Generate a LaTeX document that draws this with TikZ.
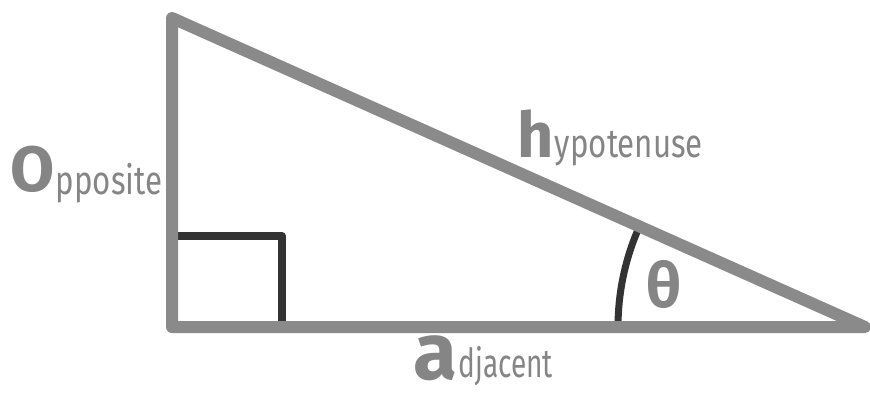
\documentclass[tikz,border=0pt]{standalone}
\usepackage{fontspec}
\setmainfont{Fira Sans}
\usetikzlibrary{positioning,calc}
\definecolor{sidegray}{HTML}{8A8A8A}
\definecolor{markdark}{HTML}{333333}
\definecolor{textgray}{HTML}{858585}

\begin{document}
\begin{tikzpicture}[x=1pt,y=-1pt,
    side/.style={draw=sidegray, line width=12pt, line join=round, line cap=round},
    rightmark/.style={draw=markdark, line width=8pt, line join=round},
    anglemark/.style={draw=markdark, line width=7pt},
    bigletter/.style={text=textgray, inner sep=0pt, anchor=base west},
    restword/.style={text=textgray, inner sep=0pt, anchor=base west, xscale=0.78,
      font=\fontsize{40}{40}\selectfont}]
        % Page size
        \useasboundingbox (0,0) rectangle (870,392);
        % Define vertices
        \coordinate (top) at (172,18);
        \coordinate (corner) at (172,327);
        \coordinate (tip) at (865,327);
        % Right angle mark
        \coordinate (markA) at (177,236);
        \coordinate (markB) at (282,236);
        \coordinate (markC) at (282,322);
        \draw[rightmark] (markA) -- (markB) -- (markC);
        % Angle arc at the tip
        \draw[anglemark] (tip) ++(180:247) arc (180:203:247);
        \node[text=textgray, font=\bfseries\fontsize{62}{62}\selectfont, inner sep=0pt] (theta) at (664,284) {θ};
        % Triangle sides
        \draw[side] (top) -- (corner) -- (tip) -- cycle;
        % Side labels
        \node[bigletter, font=\bfseries\fontsize{64}{64}\selectfont] (O) at (10,191) {O};
        \node[restword] (opp) at ($(O.base east)+(1,3)$) {pposite};
        \node[bigletter, font=\bfseries\fontsize{63}{63}\selectfont] (h) at (517,157) {h};
        \node[restword] (hyp) at ($(h.base east)+(1,0)$) {ypotenuse};
        \node[bigletter, font=\bfseries\fontsize{80}{80}\selectfont] (a) at (413,379) {a};
        \node[restword, xscale=0.9] (adj) at ($(a.base east)+(1,-2)$) {djacent};
\end{tikzpicture}
\end{document}
